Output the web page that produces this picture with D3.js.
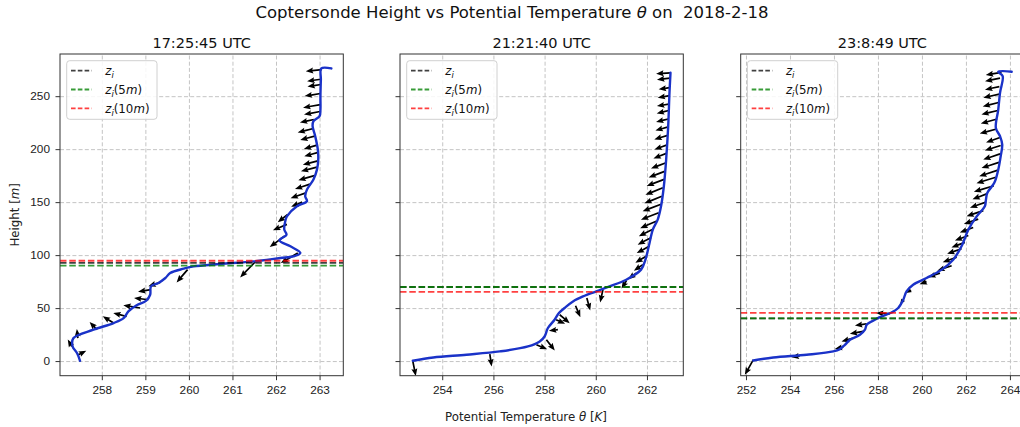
<!DOCTYPE html>
<html>
<head>
<meta charset="utf-8">
<script src="https://d3js.org/d3.v7.min.js"></script>
<style>
  body { margin: 0; background: #fff; }
  svg { font-family: "DejaVu Sans", sans-serif; }
  .tick text { font-size: 11.8px; fill: #222; }
  .grid line { stroke: #c4c4c4; stroke-dasharray: 4,2.2; stroke-width: 1; }
</style>
</head>
<body>
<svg id="chart" width="1020" height="427"></svg>
<script>
// ---- data ----
const titles = ["17:25:45 UTC", "21:21:40 UTC", "23:8:49 UTC"];
const yTicks = [0, 50, 100, 150, 200, 250];
const xTicks1 = [258, 259, 260, 261, 262, 263];
const xTicks2 = [254, 256, 258, 260, 262];
const xTicks3 = [252, 254, 256, 258, 260, 262, 264];

// profiles: potential temperature (K) vs height (m)
const theta1 = [257.50, 257.43, 257.33, 257.35, 257.81, 258.27, 258.50, 258.61, 258.80, 259.02, 259.11, 259.13, 259.30, 259.46, 259.57, 259.88, 260.11, 260.72, 261.49, 262.10, 262.40, 262.56, 262.33, 262.08, 262.24, 262.19, 262.22, 262.25, 262.48, 262.71, 262.67, 262.71, 262.86, 262.94, 262.97, 262.96, 262.90, 262.84, 262.86, 263.00, 263.02, 263.02, 263.03, 263.04, 263.27];
const height1 = [0.3, 7.6, 13.8, 21.7, 29.6, 35.9, 40.6, 46.9, 52.6, 57.0, 62.6, 70.5, 73.7, 78.4, 83.1, 87.2, 89.4, 91.6, 94.1, 97.3, 98.8, 102.0, 108.3, 114.0, 119.3, 124.0, 133.4, 136.6, 146.1, 150.8, 155.5, 161.8, 171.3, 180.7, 190.2, 199.6, 212.2, 221.7, 226.4, 231.1, 237.4, 250.0, 265.8, 276.2, 276.2];

const theta2 = [252.85, 253.65, 254.95, 256.25, 257.35, 257.81, 258.00, 258.13, 258.39, 258.56, 258.78, 259.11, 259.50, 260.02, 260.54, 261.19, 261.77, 261.94, 262.07, 262.23, 262.42, 262.55, 262.66, 262.75, 262.83, 262.88, 262.92];
const height2 = [0.3, 3.4, 6.0, 9.1, 13.8, 18.5, 23.2, 31.2, 39.0, 45.4, 50.1, 56.3, 61.0, 65.8, 70.5, 76.8, 86.3, 95.7, 108.3, 124.1, 133.5, 146.1, 165.0, 190.2, 221.7, 253.2, 272.1];

const theta3 = [252.33, 253.24, 254.76, 255.97, 256.27, 256.50, 256.73, 257.18, 257.41, 257.49, 257.86, 258.17, 258.62, 258.92, 259.15, 259.30, 259.60, 260.21, 260.90, 261.42, 261.80, 262.11, 262.49, 262.86, 262.91, 262.97, 263.29, 263.47, 263.58, 263.65, 263.55, 263.36, 263.47, 263.55, 263.67, 263.47, 264.08];
const height3 = [0.6, 3.4, 6.0, 9.1, 11.3, 15.4, 20.1, 24.8, 29.6, 34.3, 39.0, 42.1, 45.9, 50.1, 57.9, 65.8, 72.1, 78.4, 86.3, 95.7, 108.3, 124.1, 136.6, 146.1, 152.4, 158.7, 168.2, 180.7, 193.3, 204.4, 212.2, 220.1, 237.4, 253.2, 268.9, 273.0, 273.0];

// wind arrows: height, theta at tail, u, v (m/s)
const windH1 = [275, 266, 261, 252.5, 242, 235.5, 228, 219.5, 212.5, 204, 197, 189, 183, 175, 167, 158.5, 150, 138.5, 129, 118, 102, 93.5, 86.3, 74.3, 67.4, 57.9, 50.1, 42.1, 35.9, 29.6, 21.7, 13.8, 6];
const windT1 = [263.05, 263.03, 263.03, 263.02, 263.02, 263.01, 262.87, 262.86, 262.91, 262.96, 262.97, 262.96, 262.94, 262.88, 262.78, 262.67, 262.6, 262.27, 262.25, 262.2, 262.5, 261.52, 259.97, 259.34, 259.13, 259.07, 258.88, 258.57, 258.27, 257.89, 257.45, 257.31, 257.46];
const windU1 = [-8, -6.9, -6.7, -7.9, -8.7, -8, -7, -7.9, -7.7, -7, -7, -7.5, -8, -8, -7.5, -7.3, -5.5, -5, -7, -7.5, -8.5, -7.5, -5.5, -5.9, -6.5, -7.2, -8.4, -6.7, -5.4, -3.7, -0.5, -2, 4];
const windV1 = [-0.8, -1, -1, -1.3, -1.5, -1.5, -1.5, -2, -2, -2, -2, -2, -2, -2.3, -2.5, -2.5, -2.3, -4, -2.9, -5.5, -5, -7.7, -6.4, -2, -1, 0.9, 1.4, 1.7, 3.4, 3.9, 4.5, 3.5, 2];

const windH2 = [272, 267, 258, 250.5, 242.5, 236.5, 228.5, 221, 213, 204, 196, 187, 179, 171.5, 163.5, 155.5, 148, 140, 132, 124.5, 116.5, 108.5, 99, 91, 83, 76, 67.4, 59.5, 52.2, 43.7, 39, 29.6, 20.1, 15.4, 6.6, 0];
const windT2 = [262.92, 262.90, 262.88, 262.88, 262.85, 262.85, 262.84, 262.83, 262.81, 262.79, 262.76, 262.72, 262.69, 262.67, 262.62, 262.58, 262.55, 262.46, 262.36, 262.23, 262.16, 262.10, 261.97, 261.84, 261.58, 261.2, 260.28, 259.65, 259.21, 258.59, 258.45, 258.52, 258.07, 257.68, 255.86, 252.85];
const windU2 = [-7.2, -6.5, -5.4, -5.9, -5.9, -6, -6.2, -6.4, -6.7, -6.4, -6.5, -7.2, -8, -8.7, -8.7, -8.7, -9.2, -8.9, -8, -7, -6.7, -6.4, -5.4, -4.5, -4, -2.5, -1.4, 1.7, 2.4, 5, 4.5, -4.5, 4.2, 5.4, 0.9, 1.5];
const windV2 = [-0.5, -0.8, -0.8, -1, -1, -1.5, -1.5, -1.8, -2, -2.3, -2.5, -2.8, -3, -3.3, -3.5, -3.5, -3.5, -3.5, -3.5, -3.5, -3.5, -3.5, -3.3, -3, -3, -4, -6.4, -6.2, -5.7, -4.2, -2, -0.5, -5.4, -2.2, -6.2, -7.5];

const windH3 = [272.5, 267, 259, 252, 244, 236.5, 228.5, 219, 211, 203.5, 195.5, 187.5, 180, 173.5, 165.5, 158, 150, 142, 134, 126, 118.5, 112, 106, 98, 90, 83, 75, 67, 58, 44.7, 35.2, 28, 21.7, 13.2, 5, 1.2];
const windT3 = [263.62, 263.55, 263.52, 263.52, 263.49, 263.45, 263.42, 263.39, 263.55, 263.58, 263.55, 263.50, 263.42, 263.36, 263.27, 262.97, 262.91, 262.79, 262.56, 262.33, 262.11, 261.95, 261.80, 261.58, 261.35, 260.82, 260.21, 259.5, 259.15, 258.55, 257.49, 257.33, 256.88, 256.42, 254.45, 252.33];
const windU3 = [-7.9, -7.5, -7.2, -8, -8, -8.2, -8.2, -8.4, -7, -7.9, -8.4, -8.7, -9, -9.7, -10, -7.4, -8, -8.4, -7.2, -6.7, -6.7, -6.7, -7.2, -7, -7.2, -5.9, -3.5, -2.5, -1.5, -7, -5.9, -6.7, -5.9, -4.2, -4.2, -4.2];
const windV3 = [-1.3, -1.5, -1.5, -1.8, -2, -2, -2.3, -2.3, -2.5, -2.5, -2.8, -2.8, -3, -3, -3, -2.8, -2.8, -2.8, -2.5, -2.5, -2.5, -2.5, -2.5, -2.5, -2.5, -2, -1.3, -1.5, -2.5, 0.3, -0.9, -1.2, -1.7, -1, -0.7, -7.5];

// boundary layer heights (m): z_i, z_i(5m), z_i(10m)
const zi = [92.7, 69.9, 40.3];
const zi5 = [90.1, 69.9, 40.3];
const zi10 = [94.7, 65.3, 45.4];
const legendNames = ["z_i", "z_i(5m)", "z_i(10m)"];

// ---- layout ----
const svg = d3.select("#chart");
const plotTop = 54, plotBottom = 375.7, pw = 283.3;
const lefts = [60, 400, 740.7];
const xDomains = [[257.04, 263.545], [252.35, 263.42], [251.76, 264.64]];
const y = d3.scaleLinear().domain([-13.8, 289.8]).range([plotBottom, plotTop]);
const lineColors = ["rgba(0,0,0,0.75)", "rgba(0,128,0,0.78)", "rgba(255,0,0,0.75)"];
const blue = "#1a32c8";
const quiverScale = 2; // px per m/s

const panels = [
  {theta: theta1, h: height1, wh: windH1, wt: windT1, wu: windU1, wv: windV1, ticks: xTicks1},
  {theta: theta2, h: height2, wh: windH2, wt: windT2, wu: windU2, wv: windV2, ticks: xTicks2},
  {theta: theta3, h: height3, wh: windH3, wt: windT3, wu: windU3, wv: windV3, ticks: xTicks3}
];

function arrowPath(x0, y0, dx, dy) {
  const L = Math.hypot(dx, dy);
  const w = 1.7, hw = 6, hl = 7.5, hal = 6.6;
  const k = L < hl ? L / hl : 1;
  const pts = [[0, -w / 2], [L - hal * k, -w / 2], [L - hl * k, -hw / 2 * k], [L, 0],
               [L - hl * k, hw / 2 * k], [L - hal * k, w / 2], [0, w / 2]];
  const a = Math.atan2(dy, dx), c = Math.cos(a), s = Math.sin(a);
  return "M" + pts.map(p => (x0 + p[0] * c - p[1] * s).toFixed(2) + "," + (y0 + p[0] * s + p[1] * c).toFixed(2)).join("L") + "Z";
}

function mathLabel(sel, name) {
  // name like z_i(10m)
  sel.append("tspan").attr("font-style", "italic").text("z");
  sel.append("tspan").attr("font-style", "italic").attr("font-size", "8.5px").attr("dy", 3).text("i");
  const rest = name.slice(3);
  if (rest) {
    const inner = rest.slice(1, -2);
    sel.append("tspan").attr("dy", -3).text("(" + inner);
    sel.append("tspan").attr("font-style", "italic").text("m");
    sel.append("tspan").text(")");
  }
}

panels.forEach((p, i) => {
  const left = lefts[i];
  const x = d3.scaleLinear().domain(xDomains[i]).range([left, left + pw]);
  const g = svg.append("g");

  const clipId = "clip" + i;
  svg.append("clipPath").attr("id", clipId).append("rect")
    .attr("x", left).attr("y", plotTop).attr("width", pw).attr("height", plotBottom - plotTop);

  // grid
  g.append("g").attr("class", "grid").attr("transform", `translate(0,${plotBottom})`)
    .call(d3.axisBottom(x).tickValues(p.ticks).tickSize(-(plotBottom - plotTop)).tickFormat(""))
    .call(a => a.select(".domain").remove());
  g.append("g").attr("class", "grid").attr("transform", `translate(${left},0)`)
    .call(d3.axisLeft(y).tickValues(yTicks).tickSize(-pw).tickFormat(""))
    .call(a => a.select(".domain").remove());

  const plot = g.append("g").attr("clip-path", `url(#${clipId})`);

  // wind arrows
  plot.selectAll("path.arrow").data(p.wh).enter().append("path")
    .attr("class", "arrow")
    .attr("d", (h, j) => arrowPath(x(p.wt[j]), y(h), p.wu[j] * quiverScale, -p.wv[j] * quiverScale))
    .attr("fill", "#000");

  // profile
  const pts = p.theta.map((t, j) => [t, p.h[j]]);
  plot.append("path").datum(pts)
    .attr("d", d3.line().x(d => x(d[0])).y(d => y(d[1])).curve(d3.curveCatmullRom.alpha(0.5)))
    .attr("fill", "none").attr("stroke", blue).attr("stroke-width", 2.4)
    .attr("stroke-linejoin", "round").attr("stroke-linecap", "round");

  // boundary layer heights
  [zi[i], zi5[i], zi10[i]].forEach((v, k) => {
    plot.append("line").attr("x1", left).attr("x2", left + pw)
      .attr("y1", y(v)).attr("y2", y(v))
      .attr("stroke", lineColors[k]).attr("stroke-width", 1.8).attr("stroke-dasharray", "6.5,2.8");
  });

  // frame
  g.append("rect").attr("x", left).attr("y", plotTop).attr("width", pw).attr("height", plotBottom - plotTop)
    .attr("fill", "none").attr("stroke", "#333").attr("stroke-width", 1);

  // axes
  g.append("g").attr("transform", `translate(0,${plotBottom})`)
    .call(d3.axisBottom(x).tickValues(p.ticks).tickSize(4.5).tickPadding(5.5).tickFormat(d3.format("d")))
    .call(a => a.select(".domain").remove())
    .call(a => a.selectAll("line").attr("stroke", "#333"));
  g.append("g").attr("transform", `translate(${left},0)`)
    .call(d3.axisLeft(y).tickValues(yTicks).tickSize(4.5).tickPadding(5.5).tickFormat(i === 0 ? d3.format("d") : () => ""))
    .call(a => a.select(".domain").remove())
    .call(a => a.selectAll("line").attr("stroke", "#333"));

  // subplot title
  g.append("text").attr("x", left + pw / 2).attr("y", 47.5).attr("text-anchor", "middle")
    .attr("font-size", "14.5px").attr("fill", "#111").text(titles[i]);

  // legend
  const lx = left + 6.7, ly = 60.7;
  const leg = g.append("g");
  leg.append("rect").attr("x", lx).attr("y", ly).attr("width", 90.3).attr("height", 58.6)
    .attr("rx", 3).attr("fill", "rgba(255,255,255,0.85)").attr("stroke", "#d0d0d0").attr("stroke-width", 1);
  legendNames.forEach((name, k) => {
    const cy = 70.7 + k * 18.8;
    leg.append("line").attr("x1", lx + 4.3).attr("x2", lx + 25).attr("y1", cy).attr("y2", cy)
      .attr("stroke", lineColors[k]).attr("stroke-width", 1.8).attr("stroke-dasharray", "4.6,2.2");
    const t = leg.append("text").attr("x", lx + 38.5).attr("y", cy + 4.2)
      .attr("font-size", "11.8px").attr("fill", "#111");
    mathLabel(t, name);
  });
});

// figure title
const title = svg.append("text").attr("x", 512).attr("y", 18).attr("text-anchor", "middle")
  .attr("font-size", "16.5px").attr("fill", "#111").style("white-space", "pre");
title.append("tspan").text("Coptersonde Height vs Potential Temperature ");
title.append("tspan").attr("font-style", "italic").text("θ");
title.append("tspan").text(" on  2018-2-18");

// x label
const xl = svg.append("text").attr("x", 526).attr("y", 420.5).attr("text-anchor", "middle")
  .attr("font-size", "11.8px").attr("fill", "#222");
xl.append("tspan").text("Potential Temperature ");
xl.append("tspan").attr("font-style", "italic").text("θ");
xl.append("tspan").text(" [");
xl.append("tspan").attr("font-style", "italic").text("K");
xl.append("tspan").text("]");

// y label
const yl = svg.append("text").attr("transform", `translate(19,${(plotTop + plotBottom) / 2}) rotate(-90)`)
  .attr("text-anchor", "middle").attr("font-size", "11.8px").attr("fill", "#222");
yl.append("tspan").text("Height [");
yl.append("tspan").attr("font-style", "italic").text("m");
yl.append("tspan").text("]");
</script>
</body>
</html>
